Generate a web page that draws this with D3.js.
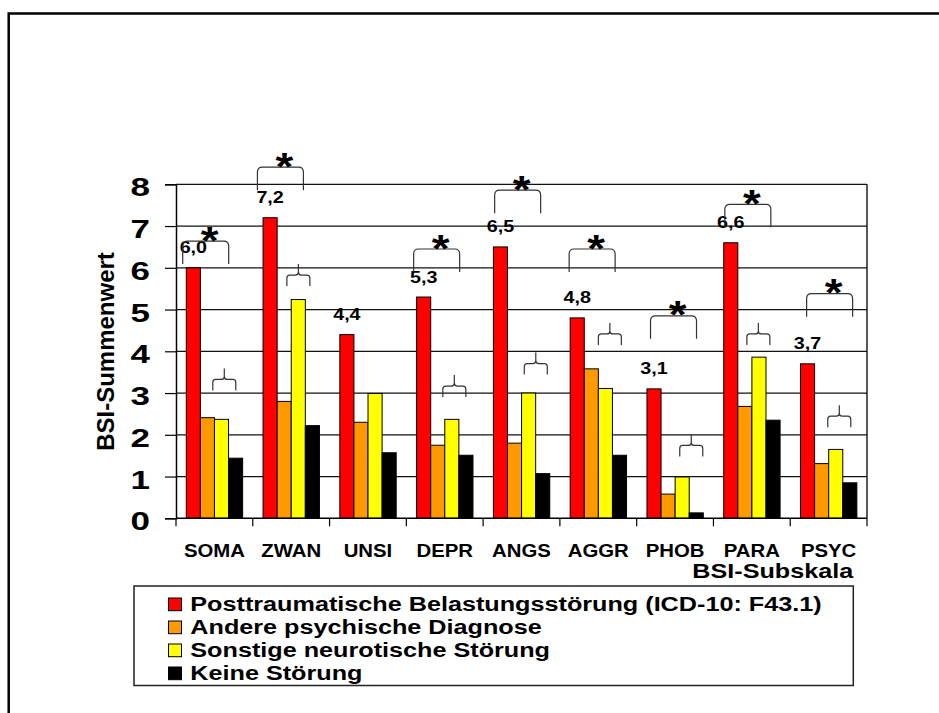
<!DOCTYPE html>
<html>
<head>
<meta charset="utf-8">
<script src="https://cdn.jsdelivr.net/npm/d3@7"></script>
<style>
  body { margin: 0; background: #fff; }
  svg { display: block; }
  text { font-family: "Liberation Sans", Arial, sans-serif; font-weight: bold; fill: #000; }
</style>
</head>
<body>
<svg id="chart" width="939" height="713"></svg>
<script>
// BSI subscales
const categories = ["SOMA", "ZWAN", "UNSI", "DEPR", "ANGS", "AGGR", "PHOB", "PARA", "PSYC"];

// Mean BSI sum scores per diagnostic group
const ptbsValues     = [6.0, 7.2, 4.4, 5.3, 6.5, 4.8, 3.1, 6.6, 3.7];
const andereValues   = [2.41, 2.80, 2.30, 1.75, 1.80, 3.58, 0.58, 2.68, 1.31];
const sonstigeValues = [2.37, 5.24, 2.99, 2.37, 3.00, 3.11, 0.99, 3.86, 1.65];
const keineValues    = [1.44, 2.22, 1.57, 1.51, 1.07, 1.51, 0.13, 2.35, 0.85];

const seriesNames = [
  "Posttraumatische Belastungsstörung (ICD-10: F43.1)",
  "Andere psychische Diagnose",
  "Sonstige neurotische Störung",
  "Keine Störung"
];
const seriesColors = ["#ff0000", "#ff9900", "#ffff00", "#000000"];

const yTicks = [0, 1, 2, 3, 4, 5, 6, 7, 8];
const yTitle = "BSI-Summenwert";
const xTitle = "BSI-Subskala";

// Significance markers (asterisk brackets) and the small braces below them
const sigCategories = ["SOMA", "ZWAN", "DEPR", "ANGS", "AGGR", "PHOB", "PARA", "PSYC"];
const sigLevels     = [6.64, 8.41, 6.45, 7.86, 6.45, 4.85, 7.52, 5.38];
const braceLevels   = [3.59, 6.09, 3.43, 3.97, 4.68, 2.01, 4.68, 2.71];

// ---- layout ----
const sigOffsets   = [0.387, 0.36, 0.395, 0.45, 0.42, 0.48, 0.448, 0.513]; // bracket centre, fraction of band
const braceOffsets = [0.629, 0.594, 0.625, 0.686, 0.651, 0.711, 0.585, 0.639];

const svg = d3.select("#chart");
const plot = { left: 176, right: 867, top: 184.3, bottom: 518.3 };

// outer frame (left and top edge)
svg.append("path")
  .attr("d", `M8.7,713 V13.5 H939`)
  .attr("fill", "none").attr("stroke", "#000").attr("stroke-width", 2.5);

const x = d3.scaleBand().domain(categories).range([plot.left, plot.right]).padding(0);
const y = d3.scaleLinear().domain([0, 8]).range([plot.bottom, plot.top]);
const bw = x.bandwidth();
const seriesKeys = d3.range(seriesNames.length);
const x1 = d3.scaleBand().domain(seriesKeys).range([0.134 * bw, 0.868 * bw]).padding(0);

// gridlines
svg.append("g").selectAll("line").data(yTicks.filter(t => t > 0)).join("line")
  .attr("x1", plot.left).attr("x2", plot.right)
  .attr("y1", d => y(d)).attr("y2", d => y(d))
  .attr("stroke", "#111").attr("stroke-width", 1.2);

// right frame of plot
svg.append("line")
  .attr("x1", plot.right).attr("x2", plot.right)
  .attr("y1", y(8)).attr("y2", y(0))
  .attr("stroke", "#111").attr("stroke-width", 1.4);

// bars
const table = categories.map((c, i) => ({
  cat: c,
  vals: [ptbsValues[i], andereValues[i], sonstigeValues[i], keineValues[i]]
}));
const groups = svg.append("g").selectAll("g").data(table).join("g")
  .attr("transform", d => `translate(${x(d.cat)},0)`);
groups.selectAll("rect").data(d => d.vals.map((v, k) => ({ v, k }))).join("rect")
  .attr("x", d => x1(d.k))
  .attr("width", x1.bandwidth())
  .attr("y", d => y(d.v))
  .attr("height", d => y(0) - y(d.v))
  .attr("fill", d => seriesColors[d.k])
  .attr("stroke", "#000").attr("stroke-width", 1);

// y axis
const yAxis = d3.axisLeft(y).tickValues(yTicks).tickSize(11).tickFormat("");
const gy = svg.append("g").attr("transform", `translate(${plot.left},0)`).call(yAxis);
gy.select(".domain").attr("stroke", "#000").attr("stroke-width", 1.5);
gy.selectAll(".tick line").attr("stroke", "#000").attr("stroke-width", 1.2);
svg.append("g").selectAll("text").data(yTicks).join("text")
  .attr("text-anchor", "end")
  .attr("font-size", 25)
  .attr("transform", d => `translate(150,${y(d) + 12}) scale(1.4,1)`)
  .text(d => d);

// x axis line and boundary ticks
svg.append("line")
  .attr("x1", plot.left).attr("x2", plot.right)
  .attr("y1", y(0)).attr("y2", y(0))
  .attr("stroke", "#000").attr("stroke-width", 1.5);
const boundaries = categories.map(c => x(c)).concat([plot.right]);
svg.append("g").selectAll("line").data(boundaries).join("line")
  .attr("x1", d => d).attr("x2", d => d)
  .attr("y1", y(0)).attr("y2", y(0) + 8)
  .attr("stroke", "#000").attr("stroke-width", 1.2);

// category labels
svg.append("g").selectAll("text").data(categories).join("text")
  .attr("text-anchor", "middle")
  .attr("font-size", 18.5)
  .attr("transform", d => `translate(${x(d) + bw / 2},557.3) scale(1.1,1)`)
  .text(d => d);

// axis titles
svg.append("text")
  .attr("text-anchor", "end")
  .attr("font-size", 21)
  .attr("transform", `translate(853.3,578.3) scale(1.2,1)`)
  .text(xTitle);
svg.append("text")
  .attr("text-anchor", "middle")
  .attr("font-size", 24)
  .attr("transform", `translate(114,351.5) rotate(-90)`)
  .text(yTitle);

// value labels above the PTBS bars
const fmt = v => d3.format(".1f")(v).replace(".", ",");
svg.append("g").selectAll("text").data(categories).join("text")
  .attr("text-anchor", "middle")
  .attr("font-size", 17)
  .attr("transform", (c, i) => `translate(${x(c) + x1(0) + x1.bandwidth() / 2},${y(ptbsValues[i]) - 14.5}) scale(1.16,1)`)
  .text((c, i) => fmt(ptbsValues[i]));

// significance brackets with asterisk
const bracketW = 46, bracketH = 23, r = 5;
sigCategories.forEach((c, i) => {
  const cx = x(c) + sigOffsets[i] * bw;
  const top = y(sigLevels[i]);
  const l = cx - bracketW / 2, rr = cx + bracketW / 2;
  svg.append("path")
    .attr("d", `M${l},${top + bracketH} V${top + r} Q${l},${top} ${l + r},${top} H${rr - r} Q${rr},${top} ${rr},${top + r} V${top + bracketH}`)
    .attr("fill", "none").attr("stroke", "#333").attr("stroke-width", 1.2);
  svg.append("text")
    .attr("text-anchor", "middle")
    .attr("font-size", 38)
    .attr("transform", `translate(${cx + 4},${top + 12.6}) scale(1.2,1)`)
    .text("*");

  // small brace
  const bx = x(c) + braceOffsets[i] * bw;
  const tip = y(braceLevels[i]);
  const hw = 11.5, mid = tip + 11, bot = tip + 22;
  svg.append("path")
    .attr("d",
      `M${bx - hw},${bot} V${mid + 3} Q${bx - hw},${mid} ${bx - hw + 3},${mid} H${bx - 3} Q${bx},${mid} ${bx},${mid - 3} V${tip}` +
      ` M${bx},${mid - 3} Q${bx},${mid} ${bx + 3},${mid} H${bx + hw - 3} Q${bx + hw},${mid} ${bx + hw},${mid + 3} V${bot}`)
    .attr("fill", "none").attr("stroke", "#333").attr("stroke-width", 1.2);
});

// legend
const legend = svg.append("g");
legend.append("rect")
  .attr("x", 134).attr("y", 586).attr("width", 853.3 - 134).attr("height", 99.5)
  .attr("fill", "#fff").attr("stroke", "#222").attr("stroke-width", 1.5);
const rows = legend.selectAll("g").data(seriesNames).join("g")
  .attr("transform", (d, i) => `translate(0,${610.7 + i * 23})`);
rows.append("rect")
  .attr("x", 168.5).attr("y", -12.7).attr("width", 13).attr("height", 12.7)
  .attr("fill", (d, i) => seriesColors[i]).attr("stroke", "#000").attr("stroke-width", 1);
rows.append("text")
  .attr("font-size", 21)
  .attr("transform", "translate(190.3,0) scale(1.2,1)")
  .text(d => d);
</script>
</body>
</html>
